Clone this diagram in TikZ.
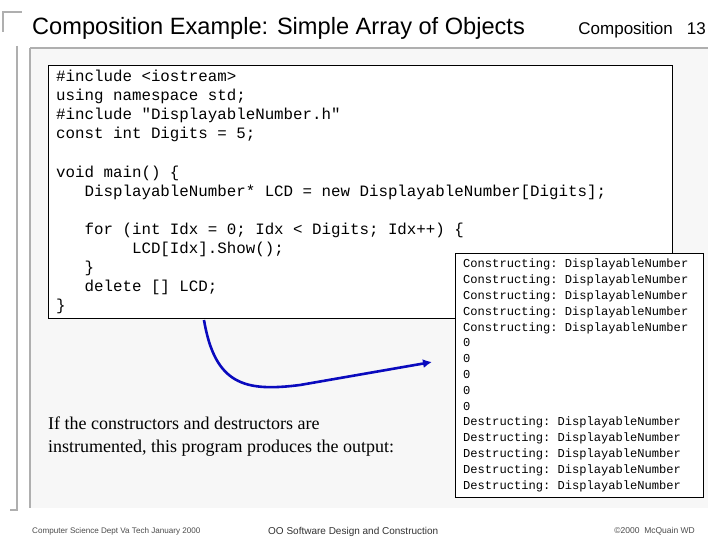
\documentclass[tikz,border=0pt]{standalone}
\usepackage{fontspec}
\usetikzlibrary{arrows.meta}
\setmainfont{Liberation Serif}
\setsansfont{Liberation Sans}
\setmonofont{Liberation Mono}
\definecolor{panel}{RGB}{247,247,247}
\definecolor{edge}{RGB}{175,175,175}
\definecolor{arrowblue}{RGB}{10,10,190}
\begin{document}
\begin{tikzpicture}[x=1pt,y=-1pt,
  codebox/.style={draw=black,fill=white,line width=1pt},
  mono/.style={font=\ttfamily,anchor=north west,align=left,inner sep=0pt}]
\useasboundingbox (0,0) rectangle (720,540);
\fill[white] (0,0) rectangle (720,540);
% frame decorations
\fill[panel] (30,48) rectangle (708,508);
\draw[edge,line width=2pt] (30,48) -- (30,508);
\draw[edge,line width=1.5pt] (30,48) -- (708,48);
\draw[edge,line width=1.5pt] (17,46) -- (17,510) -- (10,510);
\draw[edge,line width=1.5pt] (3,32) -- (3,12) -- (22,12);
% title
\node[font=\sffamily\fontsize{23.6}{28}\selectfont,anchor=west,inner sep=0pt] (title) at (32,28) {Composition Example: Simple Array of Objects};
\node[font=\sffamily\fontsize{17}{20}\selectfont,anchor=east,inner sep=0pt] (sec) at (706,30) {Composition\hspace{14pt}13};
% code box
\draw[codebox] (48,66) rectangle (672,318);
\node[mono,font=\ttfamily\fontsize{15.8}{19.1}\selectfont] (code) at (56,70) {%
\#include <iostream>\\
using namespace std;\\
\#include "DisplayableNumber.h"\\
const int Digits = 5;\\
\mbox{}\\
void main() \{\\
\phantom{xxx}DisplayableNumber* LCD = new DisplayableNumber[Digits];\\
\mbox{}\\
\phantom{xxx}for (int Idx = 0; Idx < Digits; Idx++) \{\\
\phantom{xxxxxxxx}LCD[Idx].Show();\\
\phantom{xxx}\}\\
\phantom{xxx}delete [] LCD;\\
\}};
% output box
\draw[codebox] (455,253) rectangle (703,497);
\node[mono,font=\ttfamily\fontsize{12.1}{15.8}\selectfont] (out) at (463,259) {%
Constructing: DisplayableNumber\\
Constructing: DisplayableNumber\\
Constructing: DisplayableNumber\\
Constructing: DisplayableNumber\\
Constructing: DisplayableNumber\\
0\\0\\0\\0\\0\\
Destructing: DisplayableNumber\\
Destructing: DisplayableNumber\\
Destructing: DisplayableNumber\\
Destructing: DisplayableNumber\\
Destructing: DisplayableNumber};
% explanation
\node[font=\fontsize{18}{22.5}\selectfont,anchor=north west,align=left,inner sep=0pt] (expl) at (48,417) {If the constructors and destructors are\\instrumented, this program produces the output:};
% arrow
\coordinate (a0) at (204,320);
\coordinate (a1) at (432,362);
\draw[arrowblue,line width=2.6pt,-{Latex[length=9pt,width=9pt]}] (a0) .. controls (215,385) and (245,392) .. (300,385) -- (a1);
% footer
\node[font=\sffamily\fontsize{8.1}{10}\selectfont,anchor=west,inner sep=0pt,text=black!70] (f1) at (32,531) {Computer Science Dept Va Tech January 2000};
\node[font=\sffamily\fontsize{10}{12}\selectfont,anchor=west,inner sep=0pt,text=black!80] (f2) at (268,532) {OO Software Design and Construction};
\node[font=\sffamily\fontsize{8.5}{10}\selectfont,anchor=east,inner sep=0pt,text=black!70] (f3) at (695,531) {©2000\ \ McQuain WD};
\end{tikzpicture}
\end{document}
